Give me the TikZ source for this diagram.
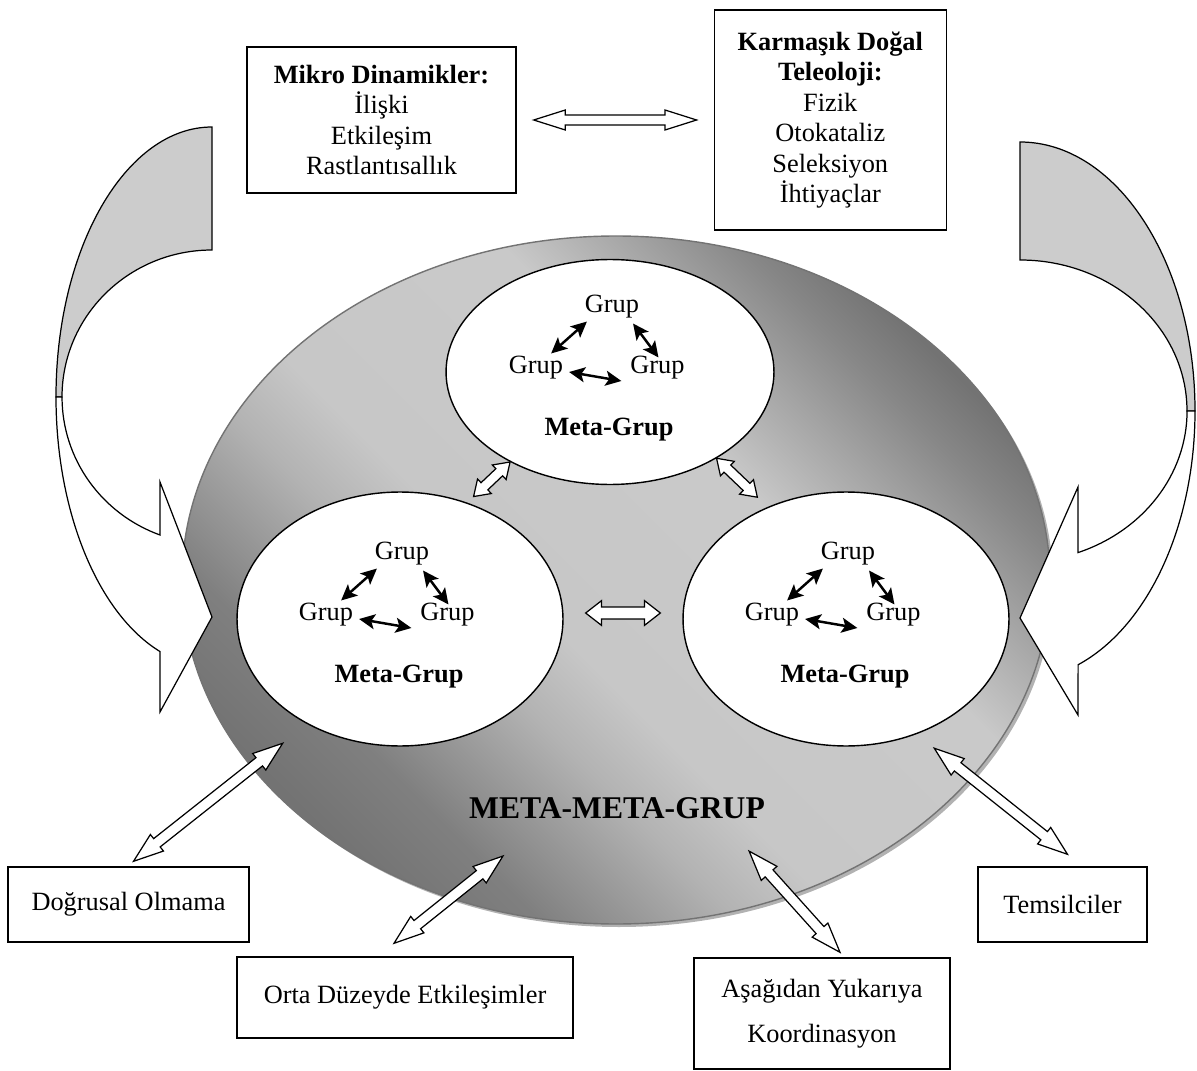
\documentclass[tikz,border=0pt]{standalone}
\usepackage{fontspec}
\setmainfont{Liberation Serif}
\usetikzlibrary{positioning, calc, shapes.geometric, arrows.meta}
\pgfdeclareverticalshading{ovalshade}{100bp}{color(0bp)=(black!55); color(25bp)=(black!55);
  color(31bp)=(black!50); color(40bp)=(black!30); color(45bp)=(black!22); color(60bp)=(black!21);
  color(66bp)=(black!35); color(71bp)=(black!47); color(75bp)=(black!55); color(100bp)=(black!55)}
\tikzset{
  box/.style={draw, line width=0.8pt, fill=white, align=center, inner sep=0pt},
  meta/.style={ellipse, draw, line width=0.8pt, fill=white, inner sep=0pt},
  grup/.style={inner sep=0pt, outer sep=0pt},
  pair/.style={line width=1.4pt, {Stealth[length=9pt,width=8.5pt,inset=2pt]}-{Stealth[length=9pt,width=8.5pt,inset=2pt]}},
  hollow/.style={draw, fill=white, line width=0.7pt, line join=miter},
  backband/.style={draw, fill=black!20, line width=0.7pt},
  frontband/.style={draw, fill=white, line width=0.7pt}
}
% hollow double arrow: head length, head half width, shaft half width (pt), from, to
\newcommand\twoway[5]{%
  \draw[hollow] let \p1=(#4), \p2=(#5), \n1={atan2(\y2-\y1,\x2-\x1)},
      \n2={veclen(\x2-\x1,\y2-\y1)}, \n3={atan2(#2,#1)}, \n4={veclen(#1,#2)} in
    (\p1) -- ++({\n1+\n3}:{\n4pt}) -- ++({\n1-90}:{#2pt-#3pt})
    -- ++({\n1}:{\n2-2*#1pt}) -- ++({\n1+90}:{#2pt-#3pt}) -- ++({\n1-\n3}:{\n4pt})
    -- ++({\n1+180+\n3}:{\n4pt}) -- ++({\n1+90}:{#2pt-#3pt})
    -- ++({\n1+180}:{\n2-2*#1pt}) -- ++({\n1-90}:{#2pt-#3pt}) -- cycle;
}

\begin{document}
\begin{tikzpicture}[x=0.02cm, y=0.02cm, font=\fontsize{15}{17.3}\selectfont]
\useasboundingbox (0,0) rectangle (1197,-1071);

% big oval
\fill[black!30] (619,-583) ellipse [x radius=434, y radius=344];
\shadedraw[draw=black!55, line width=0.8pt, shading=ovalshade, shading angle=-45]
  (616,-580) ellipse [x radius=434, y radius=344];
\node[font=\fontsize{18}{20}\selectfont\bfseries] (mmg) at (617,-808) {META-META-GRUP};

% curved arrows
\draw[backband] (212,-127) arc[start angle=90, end angle=180, x radius=156, y radius=270]
  -- (62,-397) arc[start angle=180, end angle=90, x radius=150, y radius=147] -- cycle;
\draw[frontband] (56,-397) arc[start angle=180, end angle=250.5, x radius=156, y radius=270]
  -- (160,-712) -- (212,-617) -- (160,-482) -- (160,-535)
  arc[start angle=249.7, end angle=180, x radius=150, y radius=147] -- cycle;
\draw[backband] (1020,-142) arc[start angle=90, end angle=0, x radius=175, y radius=269]
  -- (1187,-411) arc[start angle=0, end angle=90, x radius=167, y radius=151] -- cycle;
\draw[frontband] (1195,-411) arc[start angle=0, end angle=-70.6, x radius=175, y radius=269]
  -- (1078,-715) -- (1020,-618) -- (1078,-487) -- (1078,-552.6)
  arc[start angle=-69.7, end angle=0, x radius=167, y radius=151] -- cycle;

\node[meta, minimum width=6.56cm, minimum height=4.5cm] (mt) at (610,-372) {};
\node[meta, minimum width=6.52cm, minimum height=5.08cm] (ml) at (400,-619) {};
\node[meta, minimum width=6.52cm, minimum height=5.08cm] (mr) at (846,-619) {};

\foreach \m in {mt,ml,mr} {
  \node[grup] (\m-top) at ([shift={(0.04cm,1.3cm)}]\m.center) {Grup};
  \node[grup] (\m-left) at ([shift={(-1.48cm,0.08cm)}]\m.center) {Grup};
  \node[grup] (\m-right) at ([shift={(0.95cm,0.08cm)}]\m.center) {Grup};
  \node[font=\fontsize{15}{17.3}\selectfont\bfseries] (\m-name)
    at ([shift={(-0.02cm,-1.15cm)}]\m.center) {Meta-Grup};
  \draw[pair] ([shift={(-12,3)}]\m-left.north east) -- ([shift={(2,-3)}]\m-top.south west);
  \draw[pair] ([shift={(-6,-5)}]\m-top.south east) -- ([shift={(1,-1)}]\m-right.north);
  \draw[pair] ([shift={(6,-4)}]\m-left.east) -- ([shift={(-9,-13)}]\m-right.west);
}

\node[box, minimum width=5.38cm, minimum height=2.92cm] (mikro) at (381.5,-120)
  {\textbf{Mikro Dinamikler:}\\İlişki\\Etkileşim\\Rastlantısallık};
\node[box, minimum width=4.64cm, minimum height=4.4cm, right=3.94cm of mikro] (karm)
  {\textbf{Karmaşık Doğal}\\\textbf{Teleoloji:}\\Fizik\\Otokataliz\\Seleksiyon\\İhtiyaçlar};
\node[box, minimum width=4.82cm, minimum height=1.5cm] (dog) at (128.5,-904.5) {Doğrusal Olmama};
\node[box, minimum width=6.72cm, minimum height=1.62cm] (orta) at (405,-997.5) {Orta Düzeyde Etkileşimler};
\node[box, minimum width=5.12cm, minimum height=2.22cm] (asag) at (822,-1013.5)
  {Aşağıdan Yukarıya\\[8.5pt]Koordinasyon};
\node[box, minimum width=3.38cm, minimum height=1.5cm] (tems) at (1062.5,-904.5) {Temsilciler};

\coordinate (dogtip) at (283,-743);
\coordinate (ortatip) at (503,-856);
\coordinate (asagtip) at (749,-851);
\coordinate (temstip) at (934,-748);

\twoway{18}{5.7}{2.8}{$(mikro.east)!9.7pt!(karm.west)$}{$(karm.west)!9.7pt!(mikro.east)$}
\twoway{8.5}{5.7}{2.8}{$(ml.60)!5pt!(mt.222)$}{mt.222}
\twoway{8.5}{5.7}{2.8}{mt.321}{$(mr.125)!8pt!(mt.321)$}
\twoway{9}{7}{3.4}{$([yshift=0.12cm]ml.east)!12.5pt!([yshift=0.12cm]mr.west)$}{$([yshift=0.12cm]mr.west)!12.5pt!([yshift=0.12cm]ml.east)$}
\twoway{17}{6}{3}{[shift={(5,5)}]dog.north}{dogtip}
\twoway{17}{6}{3}{[shift={(-11,13)}]orta.north}{ortatip}
\twoway{17}{6}{3}{[shift={(18,5)}]asag.north}{asagtip}
\twoway{17}{6}{3}{[shift={(5,12)}]tems.north}{temstip}
\end{tikzpicture}
\end{document}
